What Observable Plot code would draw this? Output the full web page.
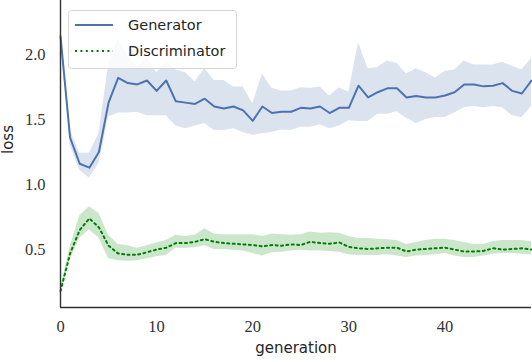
<!DOCTYPE html>
<html>
<head>
<meta charset="utf-8">
<script src="https://cdn.jsdelivr.net/npm/d3@7"></script>
<script src="https://cdn.jsdelivr.net/npm/@observablehq/plot@0.6"></script>
<style>
  html, body { margin: 0; padding: 0; background: #fff; }
</style>
</head>
<body>
<div id="chart"></div>
<script>
const generations = [0,1,2,3,4,5,6,7,8,9,10,11,12,13,14,15,16,17,18,19,20,21,22,23,24,25,26,27,28,29,30,31,32,33,34,35,36,37,38,39,40,41,42,43,44,45,46,47,48,49];

const genMean = [2.14,1.36,1.16,1.13,1.25,1.63,1.82,1.78,1.77,1.80,1.72,1.80,1.64,1.63,1.62,1.66,1.60,1.585,1.60,1.57,1.49,1.60,1.55,1.56,1.56,1.59,1.585,1.60,1.55,1.59,1.59,1.76,1.67,1.71,1.74,1.74,1.67,1.68,1.67,1.67,1.685,1.71,1.77,1.77,1.755,1.76,1.78,1.72,1.70,1.80];
const genHi = [2.16,1.42,1.24,1.24,1.39,1.92,2.12,1.99,1.90,1.97,1.86,1.94,1.88,1.86,1.79,1.89,1.80,1.80,1.75,1.75,1.62,1.85,1.74,1.72,1.72,1.745,1.74,1.75,1.68,1.745,1.71,2.09,1.89,1.90,1.95,1.93,1.85,1.89,1.86,1.82,1.87,1.88,1.95,1.92,1.92,1.92,1.94,1.91,1.88,1.97];
const genLo = [2.12,1.30,1.11,1.05,1.16,1.52,1.55,1.55,1.555,1.53,1.53,1.53,1.45,1.43,1.45,1.47,1.415,1.415,1.43,1.40,1.38,1.39,1.40,1.42,1.415,1.44,1.44,1.46,1.43,1.45,1.49,1.485,1.485,1.54,1.54,1.56,1.51,1.47,1.50,1.515,1.515,1.55,1.59,1.60,1.59,1.60,1.59,1.53,1.515,1.60];

const discMean = [0.18,0.47,0.65,0.74,0.67,0.53,0.47,0.46,0.46,0.48,0.50,0.515,0.55,0.55,0.56,0.58,0.56,0.55,0.545,0.54,0.535,0.525,0.535,0.53,0.54,0.535,0.56,0.55,0.545,0.555,0.52,0.51,0.505,0.51,0.515,0.515,0.485,0.50,0.505,0.51,0.515,0.50,0.485,0.485,0.49,0.51,0.50,0.505,0.51,0.50];
const discHi = [0.20,0.52,0.76,0.83,0.78,0.61,0.54,0.53,0.51,0.53,0.55,0.57,0.61,0.60,0.61,0.66,0.62,0.615,0.615,0.615,0.615,0.60,0.62,0.615,0.61,0.615,0.635,0.625,0.63,0.625,0.60,0.585,0.585,0.58,0.575,0.57,0.54,0.555,0.57,0.58,0.58,0.57,0.555,0.54,0.54,0.56,0.57,0.57,0.57,0.56];
const discLo = [0.16,0.42,0.59,0.65,0.59,0.43,0.415,0.41,0.415,0.43,0.445,0.455,0.51,0.51,0.515,0.53,0.50,0.50,0.495,0.49,0.47,0.45,0.475,0.48,0.49,0.495,0.49,0.49,0.485,0.48,0.46,0.455,0.455,0.455,0.46,0.45,0.44,0.45,0.455,0.46,0.47,0.45,0.44,0.44,0.45,0.465,0.47,0.47,0.465,0.46];

const xTicks = [0, 10, 20, 30, 40];
const yTicks = [0.5, 1.0, 1.5, 2.0];
const xDomain = [0, 49];
const yDomain = [0.055, 2.415];
const seriesNames = ["Generator", "Discriminator"];

const genColor = "#4c72b0";
const discColor = "#008000";

const genRows = generations.map((g, i) => ({g, m: genMean[i], lo: genLo[i], hi: genHi[i]}));
const discRows = generations.map((g, i) => ({g, m: discMean[i], lo: discLo[i], hi: discHi[i]}));

const sans = "'DejaVu Sans', sans-serif";
const serif = "'Liberation Serif', 'DejaVu Serif', serif";
const dots = "2,3.4";

const chart = Plot.plot({
  width: 532,
  height: 362,
  marginLeft: 60,
  marginRight: 1,
  marginTop: 0,
  marginBottom: 55,
  style: {background: "#fff", overflow: "visible", fontFamily: serif, fontSize: "16.5px", color: "#333"},
  x: {domain: xDomain},
  y: {domain: yDomain},
  marks: [
    Plot.areaY(genRows, {x: "g", y1: "lo", y2: "hi", fill: genColor, fillOpacity: 0.2}),
    Plot.areaY(discRows, {x: "g", y1: "lo", y2: "hi", fill: discColor, fillOpacity: 0.2}),
    Plot.lineY(genRows, {x: "g", y: "m", stroke: genColor, strokeWidth: 2}),
    Plot.lineY(discRows, {x: "g", y: "m", stroke: discColor, strokeWidth: 2, strokeDasharray: dots}),
    Plot.ruleX([xDomain[0]], {stroke: "#333", strokeWidth: 1.4}),
    Plot.ruleY([yDomain[0]], {stroke: "#333", strokeWidth: 1.4}),
    Plot.axisX(xTicks, {tickSize: 0, tickPadding: 13, label: null, fontFamily: serif}),
    Plot.axisY(yTicks, {tickSize: 0, tickPadding: 15, label: null, tickFormat: d3.format(".1f"), fontFamily: serif}),
    Plot.text(["loss"], {frameAnchor: "left", dx: -52, rotate: -90, fontSize: 15, fontFamily: sans, fill: "#262626"}),
    Plot.text(["generation"], {frameAnchor: "bottom", dy: 45, fontSize: 15, fontFamily: sans, fill: "#262626"})
  ]
});

document.getElementById("chart").appendChild(chart);

// Legend
const svg = d3.select(chart);
const lg = svg.append("g").attr("class", "legend")
  .attr("text-anchor", "start").attr("font-family", sans).attr("font-size", 14.5);
lg.append("rect")
  .attr("x", 68.5).attr("y", 10.5).attr("width", 168).attr("height", 58)
  .attr("rx", 3).attr("fill", "#fff").attr("fill-opacity", 0.8)
  .attr("stroke", "#d6d6d6").attr("stroke-width", 1);
const items = [
  {name: seriesNames[0], color: genColor, dash: null, y: 25},
  {name: seriesNames[1], color: discColor, dash: dots, y: 51}
];
items.forEach(it => {
  const l = lg.append("line")
    .attr("x1", 75).attr("x2", 113).attr("y1", it.y).attr("y2", it.y)
    .attr("stroke", it.color).attr("stroke-width", 2);
  if (it.dash) l.attr("stroke-dasharray", it.dash);
  lg.append("text")
    .attr("x", 128).attr("y", it.y).attr("dy", "0.36em")
    .attr("text-anchor", "start")
    .style("font-family", sans).style("font-size", "14.5px")
    .attr("fill", "#262626")
    .text(it.name);
});
</script>
</body>
</html>
